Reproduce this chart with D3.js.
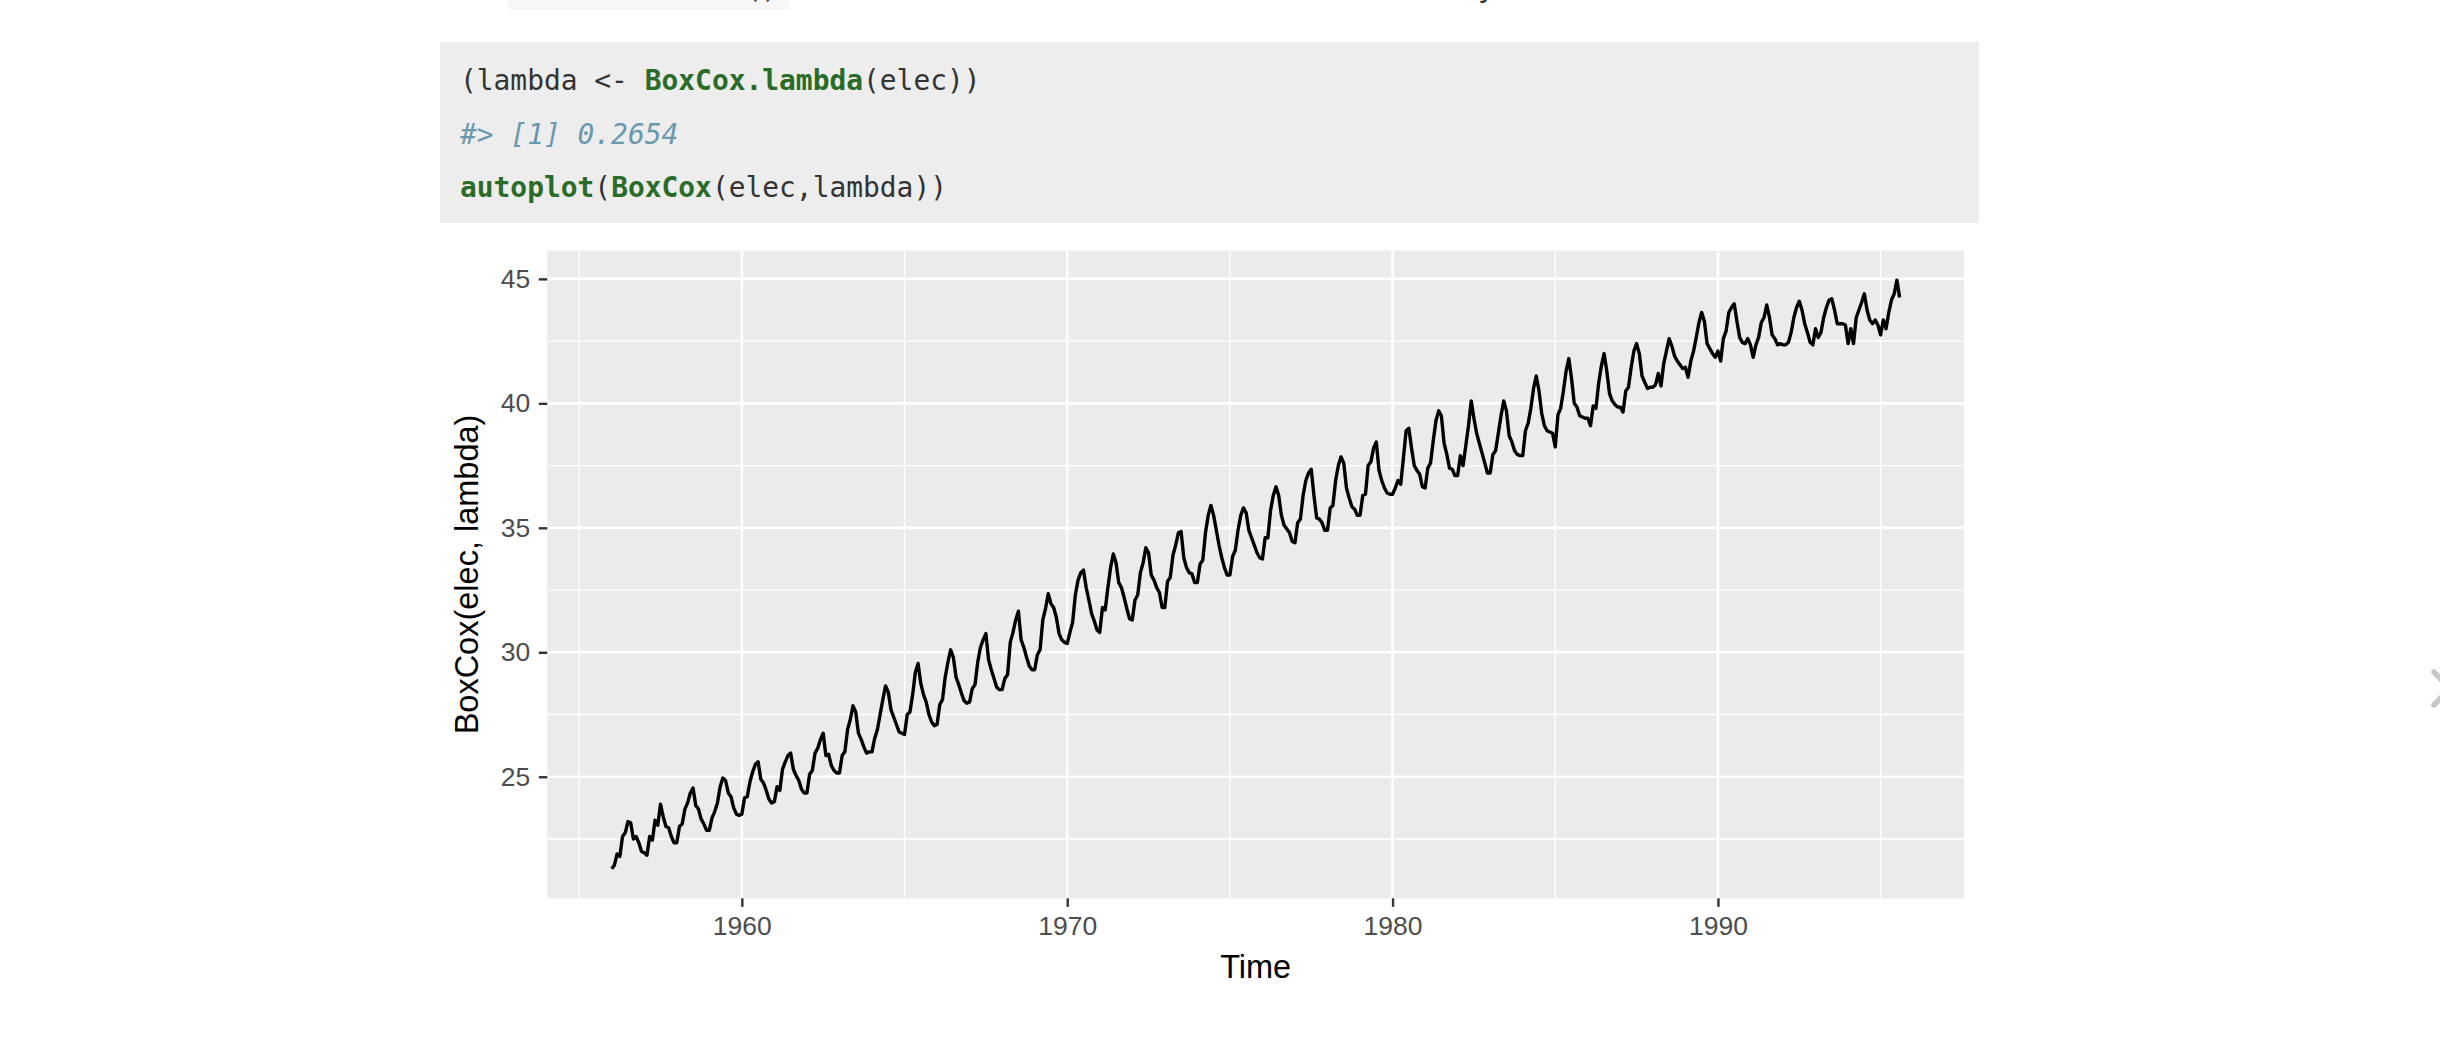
<!DOCTYPE html>
<html>
<head>
<meta charset="utf-8">
<script src="https://cdn.jsdelivr.net/npm/d3@7"></script>
<style>
  html, body { margin: 0; padding: 0; background: #fff; }
  svg { display: block; }
</style>
</head>
<body>
<div id="chart"></div>
<script>
// BoxCox(elec, lambda), monthly, Jan 1956 - Aug 1995
const startYear = 1956;
const vals1950s = [
  21.3, 21.45, 21.9, 21.8, 22.6, 22.75, 23.2, 23.15, 22.5, 22.6, 22.35, 22.0,
  21.95, 21.85, 22.6, 22.45, 23.25, 23.05, 23.9, 23.4, 23.0, 22.95, 22.6, 22.35,
  22.35, 23.0, 23.1, 23.7, 23.95, 24.35, 24.55, 23.85, 23.7, 23.3, 23.1, 22.85,
  22.85, 23.35, 23.6, 23.95, 24.6, 24.95, 24.85, 24.35, 24.2, 23.75, 23.5, 23.45
];
const vals1960s = [
  23.5, 24.15, 24.2, 24.8, 25.2, 25.5, 25.6, 24.9, 24.75, 24.45, 24.1, 23.95,
  24.0, 24.6, 24.45, 25.3, 25.6, 25.85, 25.95, 25.3, 25.05, 24.85, 24.5, 24.35,
  24.35, 25.1, 25.25, 25.95, 26.15, 26.5, 26.75, 25.85, 25.9, 25.45, 25.25, 25.15,
  25.15, 25.85, 26.0, 26.9, 27.3, 27.85, 27.6, 26.75, 26.5, 26.2, 25.95, 26.0,
  26.0, 26.55, 26.9, 27.5, 28.1, 28.65, 28.4, 27.7, 27.4, 27.1, 26.8, 26.75,
  26.7, 27.5, 27.6, 28.3, 29.2, 29.55, 28.75, 28.3, 28.0, 27.5, 27.2, 27.05,
  27.1, 27.9, 28.1, 29.0, 29.6, 30.1, 29.8, 29.0, 28.7, 28.35, 28.05, 27.95,
  28.0, 28.55, 28.7, 29.6, 30.2, 30.5, 30.75, 29.7, 29.3, 28.95, 28.6, 28.5,
  28.5, 28.95, 29.1, 30.4, 30.8, 31.3, 31.65, 30.5, 30.2, 29.8, 29.45, 29.3,
  29.3, 29.9, 30.1, 31.3, 31.75, 32.35, 31.95, 31.8, 31.4, 30.75, 30.5, 30.4
];
const vals1970s = [
  30.35, 30.8, 31.2, 32.3, 32.9, 33.2, 33.3, 32.6, 32.1, 31.55, 31.25, 30.9,
  30.8, 31.8, 31.7, 32.6, 33.4, 33.95, 33.6, 32.8, 32.6, 32.2, 31.75, 31.35,
  31.3, 32.1, 32.3, 33.2, 33.6, 34.2, 34.0, 33.1, 32.9, 32.6, 32.4, 31.8,
  31.8, 32.85, 33.0, 33.9, 34.3, 34.8, 34.85, 33.8, 33.4, 33.2, 33.15, 32.8,
  32.8, 33.55, 33.7, 34.8, 35.5, 35.9, 35.5, 34.9, 34.3, 33.8, 33.4, 33.1,
  33.1, 33.85, 34.1, 34.9, 35.5, 35.8, 35.6, 34.9, 34.6, 34.3, 34.0, 33.8,
  33.75, 34.6, 34.6, 35.7, 36.3, 36.65, 36.3, 35.5, 35.1, 34.95, 34.8, 34.45,
  34.4, 35.2, 35.35, 36.3, 36.9, 37.2, 37.35, 36.3, 35.4, 35.35, 35.2, 34.9,
  34.9, 35.8, 35.9, 36.9, 37.5, 37.85, 37.6, 36.6, 36.2, 35.85, 35.75, 35.5,
  35.5, 36.3, 36.35, 37.5, 37.65, 38.2, 38.45, 37.3, 36.9, 36.6, 36.4, 36.35
];
const vals1980s = [
  36.35, 36.6, 36.9, 36.75, 37.8, 38.9, 39.0, 38.2, 37.5, 37.3, 37.15, 36.65,
  36.6, 37.4, 37.6, 38.5, 39.3, 39.7, 39.5, 38.4, 37.95, 37.4, 37.35, 37.1,
  37.1, 37.9, 37.5, 38.3, 39.1, 40.1, 39.4, 38.8, 38.4, 38.0, 37.6, 37.2,
  37.2, 37.95, 38.1, 38.8, 39.5, 40.1, 39.7, 38.7, 38.45, 38.1, 37.95, 37.9,
  37.9, 38.9, 39.2, 39.8, 40.6, 41.1, 40.5, 39.6, 39.1, 38.9, 38.85, 38.8,
  38.25, 39.55, 39.8, 40.5, 41.3, 41.8, 41.0, 40.0, 39.85, 39.5, 39.45, 39.4,
  39.4, 39.1, 39.9, 39.8, 40.8, 41.5, 42.0, 41.3, 40.4, 40.1, 39.95, 39.85,
  39.85, 39.65, 40.5, 40.65, 41.45, 42.1, 42.4, 42.0, 41.1, 40.85, 40.6, 40.65,
  40.65, 40.75, 41.2, 40.7, 41.6, 42.1, 42.6, 42.3, 41.9, 41.7, 41.55, 41.4,
  41.45, 41.05, 41.7, 42.1, 42.65, 43.25, 43.65, 43.3, 42.4, 42.2, 42.0, 41.85
];
const vals1990s = [
  42.1, 41.7, 42.6, 42.9, 43.65, 43.85, 44.0, 43.3, 42.65, 42.45, 42.4, 42.6,
  42.35, 41.85, 42.35, 42.65, 43.25, 43.45, 43.95, 43.45, 42.75, 42.6, 42.35, 42.4,
  42.35, 42.35, 42.45, 42.85, 43.45, 43.85, 44.1, 43.75, 43.2, 42.85, 42.45, 42.35,
  43.0, 42.65, 42.85, 43.45, 43.85, 44.15, 44.2, 43.75, 43.2, 43.2, 43.2, 43.15,
  42.4, 43.0, 42.4, 43.45, 43.75, 44.05, 44.4, 43.75, 43.35, 43.2, 43.35, 43.15,
  42.75, 43.35, 43.0, 43.65, 44.15, 44.4, 44.95, 44.25
];

const yBreaks = [25, 30, 35, 40, 45];
const yMinor = [22.5, 27.5, 32.5, 37.5, 42.5];
const xBreaks = [1960, 1970, 1980, 1990];
const xMinor = [1955, 1965, 1975, 1985, 1995];

const codeLines = [
  [["(lambda <- ", "plain"], ["BoxCox.lambda", "fn"], ["(elec))", "plain"]],
  [["#> [1] 0.2654", "out"]],
  [["autoplot", "fn"], ["(", "plain"], ["BoxCox", "fn"], ["(elec,lambda))", "plain"]]
];

const W = 2440, H = 1044;
const svg = d3.select("#chart").append("svg")
    .attr("width", W).attr("height", H)
    .attr("viewBox", `0 0 ${W} ${H}`);

svg.append("rect").attr("width", W).attr("height", H).attr("fill", "#fff");

// bits of the page above, scrolled off the top
svg.append("rect").attr("x", 508).attr("y", 0).attr("width", 282).attr("height", 10).attr("fill", "#f7f7f7");
svg.append("text").attr("x", 745).attr("y", -2)
    .style("font-family", "DejaVu Sans Mono").style("font-size", "27.5px").attr("fill", "#333").text("()");
svg.append("text").attr("x", 1478).attr("y", -3)
    .style("font-family", "DejaVu Sans").style("font-size", "30px").attr("fill", "#333").text("y");

// code block
svg.append("rect").attr("x", 440).attr("y", 42).attr("width", 1539).attr("height", 181).attr("fill", "#ededed");
const codeColors = {plain: "#333333", fn: "#2a6b27", out: "#6a98ad"};
const codeG = svg.append("g");
codeLines.forEach(function(line, i) {
  const t = codeG.append("text")
      .attr("x", 460).attr("y", 90 + i * 53.5)
      .style("font-family", "'DejaVu Sans Mono', monospace")
      .style("font-size", "27.9px")
      .attr("xml:space", "preserve");
  line.forEach(function(part) {
    const s = t.append("tspan").attr("fill", codeColors[part[1]]).text(part[0]);
    if (part[1] === "fn") s.attr("font-weight", "bold");
    if (part[1] === "out") s.attr("font-style", "italic");
  });
});

// chevron at right edge
svg.append("path").attr("d", "M2434,672 L2450,688.5 L2434,705")
    .attr("fill", "none").attr("stroke", "#c8c8c8").attr("stroke-width", 5.5)
    .attr("stroke-linecap", "round").attr("stroke-linejoin", "round");

// plot
const allVals = vals1950s.concat(vals1960s, vals1970s, vals1980s, vals1990s);
const series = allVals.map(function(v, i) { return {t: startYear + i / 12, v: v}; });

const panel = {left: 547.3, right: 1964, top: 250.7, bottom: 898.3};
function expand(ext) {
  const d = (ext[1] - ext[0]) * 0.05;
  return [ext[0] - d, ext[1] + d];
}
const x = d3.scaleLinear().domain(expand(d3.extent(series, d => d.t))).range([panel.left, panel.right]);
const y = d3.scaleLinear().domain(expand(d3.extent(series, d => d.v))).range([panel.bottom, panel.top]);

const plot = svg.append("g");
plot.append("rect")
    .attr("x", panel.left).attr("y", panel.top)
    .attr("width", panel.right - panel.left).attr("height", panel.bottom - panel.top)
    .attr("fill", "#ebebeb");

const grid = plot.append("g").attr("stroke", "#fff");
grid.selectAll(".ymin").data(yMinor.filter(v => v > y.domain()[0] && v < y.domain()[1])).join("line")
    .attr("x1", panel.left).attr("x2", panel.right)
    .attr("y1", d => y(d)).attr("y2", d => y(d)).attr("stroke-width", 1.3);
grid.selectAll(".xmin").data(xMinor).join("line")
    .attr("y1", panel.top).attr("y2", panel.bottom)
    .attr("x1", d => x(d)).attr("x2", d => x(d)).attr("stroke-width", 1.3);
grid.selectAll(".ymaj").data(yBreaks).join("line")
    .attr("x1", panel.left).attr("x2", panel.right)
    .attr("y1", d => y(d)).attr("y2", d => y(d)).attr("stroke-width", 2.6);
grid.selectAll(".xmaj").data(xBreaks).join("line")
    .attr("y1", panel.top).attr("y2", panel.bottom)
    .attr("x1", d => x(d)).attr("x2", d => x(d)).attr("stroke-width", 2.6);

plot.append("path")
    .datum(series)
    .attr("fill", "none")
    .attr("stroke", "#000")
    .attr("stroke-width", 3.4)
    .attr("stroke-linejoin", "round")
    .attr("d", d3.line().x(d => x(d.t)).y(d => y(d.v)));

// axes (ggplot look)
const yAxis = d3.axisLeft(y).tickValues(yBreaks).tickSize(8.5).tickPadding(8.5).tickFormat(d3.format("d"));
const xAxis = d3.axisBottom(x).tickValues(xBreaks).tickSize(8.5).tickPadding(9.5).tickFormat(d3.format("d"));

const gy = svg.append("g").attr("transform", `translate(${panel.left},0)`).call(yAxis);
const gx = svg.append("g").attr("transform", `translate(0,${panel.bottom})`).call(xAxis);
[gy, gx].forEach(function(g) {
  g.select(".domain").remove();
  g.selectAll(".tick line").attr("stroke", "#333").attr("stroke-width", 2.4);
  g.selectAll(".tick text")
      .attr("fill", "#4d4d4d")
      .style("font-family", "'Liberation Sans', Arial, sans-serif")
      .style("font-size", "26.5px");
});

svg.append("text")
    .attr("x", (panel.left + panel.right) / 2).attr("y", 978)
    .attr("text-anchor", "middle")
    .style("font-family", "'Liberation Sans', Arial, sans-serif")
    .style("font-size", "32.5px").attr("fill", "#000")
    .text("Time");

svg.append("text")
    .attr("transform", `translate(478,${(panel.top + panel.bottom) / 2}) rotate(-90)`)
    .attr("text-anchor", "middle")
    .style("font-family", "'Liberation Sans', Arial, sans-serif")
    .style("font-size", "32.5px").attr("fill", "#000")
    .text("BoxCox(elec, lambda)");
</script>
</body>
</html>
